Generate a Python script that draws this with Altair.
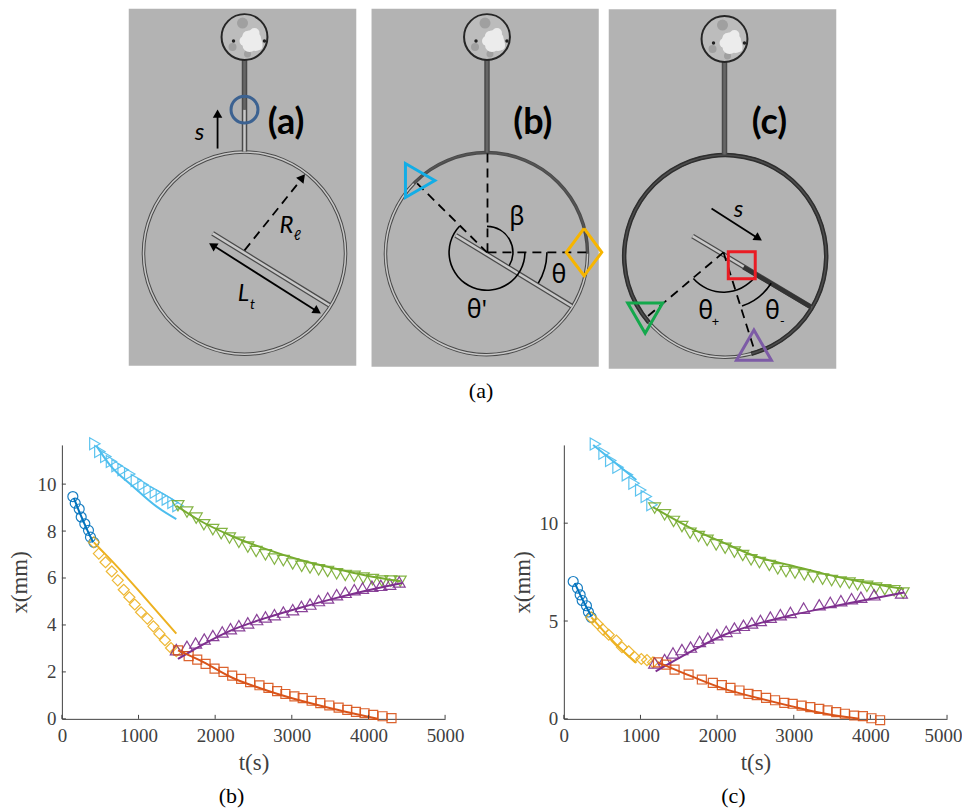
import math
import altair as alt
import pandas as pd

# ---------- plot (b) readings ----------
B_CIRCLE_T = [143,174,226,252,299,347,373,417]
B_CIRCLE_X = [9.47,9.19,8.94,8.6,8.31,8.03,7.74,7.52]
B_BLUE_LINE_T = [156,240,330,408]
B_BLUE_LINE_X = [9.4,8.72,8.05,7.52]
B_DIAMOND_T = [417,482,569,651,729,807,881,951,1033,1115,1194,1272,1345,1424,1493]
B_DIAMOND_X = [7.52,7.04,6.67,6.28,5.90,5.50,5.18,4.87,4.54,4.27,3.94,3.63,3.35,3.02,2.88]
B_YELLOW_LINE_T = [417,712,1059,1493]
B_YELLOW_LINE_X = [7.52,6.52,5.25,3.63]
B_RIGHT_T = [430,495,573,647,720,799,885,972,1059,1137,1220,1298,1376,1450,1515]
B_RIGHT_X = [11.72,11.39,11.18,10.96,10.78,10.61,10.43,10.16,9.97,9.79,9.65,9.50,9.36,9.22,9.08]
B_CYAN_LINE_T = [451,625,929,1233,1493]
B_CYAN_LINE_X = [11.63,10.82,9.90,9.05,8.51]
B_DOWN_T = [1515,1632,1753,1853,1970,2079,2187,2309,2426,2535,2656,2773,2890,3012,3129,3238,3350,3468,3585,3698,3815,3932,4054,4175,4292,4414]
B_DOWN_X = [9.08,8.81,8.55,8.27,8.06,7.89,7.70,7.52,7.32,7.13,6.99,6.81,6.74,6.60,6.50,6.43,6.35,6.28,6.18,6.11,6.07,6.0,5.93,5.87,5.87,5.86]
B_GREEN_LINE_T = [1493,1797,2231,2665,3099,3533,3967,4423]
B_GREEN_LINE_X = [9.08,8.45,7.77,7.23,6.78,6.43,6.11,5.86]
B_UP_T = [1493,1632,1745,1858,1970,2092,2200,2309,2426,2543,2656,2773,2890,3012,3125,3238,3350,3468,3585,3698,3815,3923,4045,4162,4279,4401]
B_UP_X = [2.95,3.09,3.23,3.40,3.55,3.70,3.84,3.97,4.09,4.23,4.34,4.44,4.55,4.65,4.79,4.89,5.04,5.15,5.29,5.39,5.50,5.57,5.65,5.69,5.74,5.83]
B_PURPLE_LINE_T = [1515,1797,2231,2665,3099,3533,3967,4444]
B_PURPLE_LINE_X = [2.55,3.09,3.80,4.30,4.72,5.11,5.46,5.79]
B_SQUARE_T = [1515,1654,1766,1875,1992,2109,2222,2339,2456,2578,2695,2808,2916,3034,3142,3259,3372,3489,3611,3724,3837,3949,4062,4184,4301]
B_SQUARE_X = [2.92,2.67,2.52,2.34,2.14,2.0,1.84,1.70,1.56,1.43,1.32,1.18,1.06,0.96,0.88,0.77,0.67,0.57,0.48,0.38,0.30,0.24,0.17,0.11,0.03]
B_RED_LINE_T = [1515,1797,2231,2665,3099,3533,3967,4119]
B_RED_LINE_X = [2.92,2.5,1.74,1.22,0.79,0.43,0.11,0.0]

# ---------- plot (c) readings ----------
C_CIRCLE_T = [122,178,213,239,295,321,356]
C_CIRCLE_X = [7.02,6.68,6.34,6.05,5.78,5.46,5.19]
C_BLUE_LINE_T = [143,250,360]
C_BLUE_LINE_X = [6.94,6.05,5.24]
C_DIAMOND_T = [356,438,512,586,686,759,846,924,1011,1085,1163]
C_DIAMOND_X = [5.19,4.86,4.56,4.30,4.0,3.66,3.45,3.16,3.06,3.0,2.89]
C_YELLOW_LINE_T = [360,664,946]
C_YELLOW_LINE_X = [5.19,3.88,2.86]
C_RIGHT_T = [412,525,612,707,829,916,1003,1076,1150]
C_RIGHT_X = [14.05,13.57,13.2,12.86,12.47,12.04,11.70,11.36,10.94]
C_CYAN_LINE_T = [382,664,946]
C_CYAN_LINE_X = [14.0,13.1,12.21]
C_DOWN_T = [1185,1315,1432,1541,1649,1758,1871,1988,2105,2226,2335,2443,2552,2682,2791,2899,3016,3138,3255,3377,3494,3607,3724,3832,3954,4071,4188,4310,4427]
C_DOWN_X = [10.77,10.43,10.09,9.83,9.49,9.32,9.12,8.89,8.72,8.52,8.35,8.13,7.99,7.84,7.67,7.53,7.45,7.36,7.24,7.14,7.07,6.99,6.94,6.85,6.77,6.68,6.60,6.55,6.43]
C_GREEN_LINE_T = [1163,1662,2096,2530,2964,3398,3832,4440]
C_GREEN_LINE_X = [10.82,9.74,8.98,8.27,7.84,7.41,7.04,6.63]
C_UP_T = [1185,1315,1424,1541,1654,1771,1879,1996,2118,2226,2344,2452,2565,2695,2825,2956,3129,3333,3476,3615,3754,3876,4049,4405]
C_UP_X = [2.86,3.03,3.37,3.54,3.67,3.96,4.13,4.30,4.47,4.64,4.78,4.90,5.03,5.20,5.32,5.44,5.66,5.83,5.95,6.04,6.14,6.22,6.34,6.43]
C_PURPLE_LINE_T = [1198,1662,2096,2530,2964,3398,3832,4440]
C_PURPLE_LINE_X = [2.43,3.45,4.30,4.86,5.29,5.66,6.0,6.46]
C_SQUARE_T = [1228,1337,1445,1628,1801,1944,2062,2174,2292,2409,2517,2639,2756,2877,2986,3103,3216,3333,3442,3554,3667,3789,3902,4014,4127]
C_SQUARE_X = [2.89,2.77,2.52,2.26,2.01,1.84,1.72,1.58,1.45,1.28,1.21,1.07,0.95,0.82,0.77,0.68,0.60,0.51,0.43,0.34,0.26,0.17,0.14,0.03,-0.07]
C_RED_LINE_T = [1228,1662,2096,2530,2964,3398,3854]
C_RED_LINE_X = [2.89,2.18,1.53,1.07,0.65,0.27,0.0]

X_TICKS = [0,1000,2000,3000,4000,5000]
B_Y_TICKS = [0,2,4,6,8,10]
C_Y_TICKS = [0,5,10]
B_Y_MAX = 11.67
C_Y_MAX = 14.0

# ---------- diagram readings (page pixels) ----------
PANEL_X = [129, 372.3, 610]
PANEL_X2 = [357, 600, 838]
PANEL_Y = [8, 8, 8.3]
PANEL_Y2 = [365.7, 366.7, 368.7]
RING_X = [245, 487.5, 726.7]
RING_Y = [252.8, 253.3, 255.8]
BULB_X = [245, 488, 726]
BULB_Y = [36.3, 36.3, 38.3]
MOTTLE_DX = [-2, -12, 3]
MOTTLE_DY = [-14, 10, 17]
MOTTLE_D = [11, 8, 7]
BLOB_DX = [7, 11, 5, 10, 0, 14, 3]
BLOB_DY = [3, 7, 8, -4, 4, 9, -1]
BLOB_D = [20, 14, 14, 10, 10, 8, 10]
SPECK_DX = [-11, 20]
SPECK_DY = [4, 4]
STEM_TOP = [59, 59, 60]
STEM_BOTTOM = [151, 152, 154]
TUBE_X1 = [213, 456.7, 694]
TUBE_Y1 = [233, 235, 235.7]
TUBE_X2 = [330, 573, 813]
TUBE_Y2 = [305, 306, 307]

# (label, x, y)
BOLD_LABELS = [("(a)", 286.7, 122), ("(b)", 534, 122), ("(c)", 771, 122)]
ITALIC_LABELS = [("s", 200, 132), ("R", 287, 226), ("L", 244, 294), ("s", 740, 210)]
ITALIC_SUBS = [("\u2113", 298, 236), ("t", 253, 305)]
GREEK_LABELS = [("\u03b2", 518, 217), ("\u03b8", 560, 275), ("\u03b8'", 478, 310), ("\u03b8", 707, 311), ("\u03b8", 774, 311)]
GREEK_SUBS = [("+", 717, 322), ("-", 784, 321)]

# solid thin black lines (x1, y1, x2, y2)
ARROW_SHAFTS = [(218, 148, 218, 112), (215, 246, 316, 310), (713, 208, 758, 237)]
DASHED = [(245, 250, 301, 180), (488.5, 153, 488.5, 253), (488.5, 252, 590, 252), (418, 183, 488, 252),
          (725, 252, 648, 317), (725, 252, 755, 347)]
# arrow heads (x, y, angle)
ARROW_HEADS = [(218, 113, 0), (303, 177, 39), (213, 245, -58), (318, 311, 122), (760, 238, 123)]
# thin arcs: (cx, cy, radius, from deg, to deg)
ANGLE_ARCS = [(488, 252, 60, 90, 121), (488, 252, 26, 0, 121), (488, 252, 38, 90, 314),
              (725, 252, 40, 128, 229), (725, 252, 57, 123, 161)]
DIAMOND_X = [585.3, 603, 585.3, 567.5, 585.3]
DIAMOND_Y = [228, 252, 275.5, 252, 228]

TOP_H = 426.5
SX = alt.Scale(domain=[62, 946], nice=False, zero=False)
SY = alt.Scale(domain=[8 + TOP_H, 8], nice=False, zero=False)
X = lambda f="x": alt.X(f"{f}:Q", scale=SX, axis=None)
Y = lambda f="y": alt.Y(f"{f}:Q", scale=SY, axis=None)


def seg_layer(segs, color, width, dash=None):
    rows = []
    for i, (a, b, c, d) in enumerate(segs):
        rows += [{"id": i, "o": 0, "x": a, "y": b}, {"id": i, "o": 1, "x": c, "y": d}]
    kw = {"strokeDash": dash} if dash else {}
    return alt.Chart(pd.DataFrame(rows)).mark_line(color=color, strokeWidth=width, **kw).encode(
        x=X(), y=Y(), detail="id:N", order="o:Q")


def arc_layer(rows):
    df = pd.DataFrame(rows, columns=["x", "y", "r", "r2", "t", "t2", "c"])
    df["t"] = df["t"] * math.pi / 180
    df["t2"] = df["t2"] * math.pi / 180
    return alt.Chart(df).mark_arc().encode(
        x=X(), y=Y(),
        radius=alt.Radius("r:Q", scale=None), radius2=alt.Radius2("r2:Q"),
        theta=alt.Theta("t:Q", scale=None), theta2=alt.Theta2("t2:Q"),
        color=alt.Color("c:N", scale=None))


def pts(xs, ys, size, shape="circle", fill=None, stroke=None, sw=0):
    df = pd.DataFrame({"x": xs, "y": ys})
    kw = {}
    kw["filled"] = fill is not None
    if fill is not None:
        kw["fill"] = fill
    if stroke is not None:
        kw["stroke"] = stroke
    return alt.Chart(df).mark_point(shape=shape, size=size, strokeWidth=sw, opacity=1, **kw).encode(x=X(), y=Y())


def txt(items, font, size, **kw):
    df = pd.DataFrame(items, columns=["t", "x", "y"])
    return alt.Chart(df).mark_text(font=font, fontSize=size, color="black", baseline="middle", **kw).encode(
        x=X(), y=Y(), text="t:N")


layers = []
layers.append(alt.Chart(pd.DataFrame({"x": PANEL_X, "x2": PANEL_X2, "y": PANEL_Y, "y2": PANEL_Y2}))
              .mark_rect(color="#b3b3b3").encode(x=X(), x2="x2:Q", y=Y(), y2="y2:Q"))

# rings: dark walls + channel fill by section
ring_rows = []
for cx, cy in zip(RING_X, RING_Y):
    ring_rows.append((cx, cy, 99.5, 103, 0, 360, "#4a4a4a"))
LIGHT, DARK = "#c8c8c8", "#555555"
ring_rows += [(RING_X[0], RING_Y[0], 100.5, 102, 0, 360, LIGHT),
              (RING_X[1], RING_Y[1], 100.5, 102, 90, 314, LIGHT),
              (RING_X[1], RING_Y[1], 100.5, 102, 314, 450, DARK),
              (RING_X[2], RING_Y[2], 99, 103.5, 229, 525, "#2e2e2e"),
              (RING_X[2], RING_Y[2], 100.5, 102, 165, 229, LIGHT),
              (RING_X[2], RING_Y[2], 100.5, 102, 229, 525, "#4d4d4d")]
layers.append(arc_layer(ring_rows))

# stems and tubes
stem = [(x, a, x, b) for x, a, b in zip(BULB_X, STEM_TOP, STEM_BOTTOM)]
layers.append(seg_layer(stem, "#4a4a4a", 5.5))
layers.append(seg_layer([(245, 109, 245, 151)], LIGHT, 2.5))
layers.append(seg_layer([stem[0][:3] + (109,), stem[1], stem[2]], "#666666", 2.5))
tube = list(zip(TUBE_X1, TUBE_Y1, TUBE_X2, TUBE_Y2))
layers.append(seg_layer(tube, "#4a4a4a", 5))
layers.append(seg_layer(tube, LIGHT, 2.5))
layers.append(seg_layer([(745, 267, 813, 307)], "#333333", 4.5))

# bulbs
layers.append(pts(BULB_X, BULB_Y, 46 ** 2, fill="#bcbcbc", stroke="#262626", sw=2))
for dx, dy, d in zip(MOTTLE_DX, MOTTLE_DY, MOTTLE_D):
    layers.append(pts([b + dx for b in BULB_X], [b + dy for b in BULB_Y], d ** 2, fill="#a0a0a0"))
for dx, dy, d in zip(BLOB_DX, BLOB_DY, BLOB_D):
    layers.append(pts([b + dx for b in BULB_X], [b + dy for b in BULB_Y], d ** 2, fill="#ececec"))
for dx, dy in zip(SPECK_DX, SPECK_DY):
    layers.append(pts([b + dx for b in BULB_X], [b + dy for b in BULB_Y], 12, fill="#222222"))

# annotation lines
layers.append(seg_layer(DASHED, "black", 1.8, [9, 6]))
layers.append(seg_layer(ARROW_SHAFTS, "black", 1.8))
layers.append(arc_layer([(a, b, r - 0.8, r + 0.8, t, t2, "black") for a, b, r, t, t2 in ANGLE_ARCS]))
heads = pd.DataFrame(ARROW_HEADS, columns=["x", "y", "a"])
layers.append(alt.Chart(heads).mark_point(shape="triangle-up", filled=True, color="black", size=90, opacity=1).encode(
    x=X(), y=Y(), angle=alt.Angle("a:Q", scale=None)))

# coloured markers
layers.append(pts([245], [109], 27 ** 2, stroke="#3c6291", sw=3))
layers.append(pts([421], [180], 34 ** 2, shape="triangle-right", stroke="#12ade6", sw=3))
layers.append(pts([743.3], [265], 27 ** 2, shape="square", stroke="#ea1c24", sw=3))
layers.append(pts([646.5], [318], 35 ** 2, shape="triangle-down", stroke="#14a84c", sw=3))
layers.append(pts([755.5], [345], 35 ** 2, shape="triangle-up", stroke="#7d5ba6", sw=3))
layers.append(alt.Chart(pd.DataFrame({"x": DIAMOND_X, "y": DIAMOND_Y, "o": range(5)})).mark_line(
    color="#f7b500", strokeWidth=3).encode(x=X(), y=Y(), order="o:Q"))

# labels
layers.append(txt(BOLD_LABELS, "Lato", 36, fontWeight="bold"))
layers.append(txt(ITALIC_LABELS, "Lato", 24, fontStyle="italic"))
layers.append(txt(ITALIC_SUBS, "Lato", 14, fontStyle="italic"))
layers.append(txt(GREEK_LABELS, "Noto Sans", 25))
layers.append(txt(GREEK_SUBS, "Noto Sans", 13))
layers.append(txt([("(a)", 482, 391)], "Liberation Serif", 22))

top = alt.layer(*layers).properties(width=884, height=TOP_H)

BLUE, ORANGE, YELLOW, PURPLE, GREEN, CYAN = "#0072BD", "#D95319", "#EDB120", "#7E2F8E", "#77AC30", "#4DBEEE"
W, H = 384, 274.5


def plot(markers, lines, ymax, yticks, caption, tpad, last_shift):
    sx = alt.Scale(domain=[0, 5000], nice=False, zero=False)
    sy = alt.Scale(domain=[0, ymax], nice=False, zero=False)
    base = dict(labelFont="Liberation Serif", labelFontSize=19, labelColor="#404040", tickSize=0,
                titleFont="Liberation Serif", titleFontSize=23, titleColor="#404040", titleFontWeight="normal",
                domainColor="#404040", domainWidth=1, grid=False, format="d", labelOverlap=False,
                labelFlush=False, labelBound=False)
    ax = alt.X("t:Q", scale=sx, axis=alt.Axis(values=X_TICKS, title="t(s)", labelPadding=8, titlePadding=6,
                                              labelOffset=alt.expr(f"datum.value == 5000 ? {last_shift} : 0"), **base))
    ay = alt.Y("v:Q", scale=sy, axis=alt.Axis(values=yticks, title="x(mm)", labelPadding=6, titlePadding=tpad, **base))
    out = []
    for (ts, vs, shape, size, color) in markers:
        out.append(alt.Chart(pd.DataFrame({"t": ts, "v": vs})).mark_point(
            shape=shape, size=size, color=color, strokeWidth=1.2, filled=False, opacity=0.9, clip=False).encode(x=ax, y=ay))
    for (ts, vs, color) in lines:
        out.append(alt.Chart(pd.DataFrame({"t": ts, "v": vs})).mark_line(
            color=color, strokeWidth=2, interpolate="monotone").encode(x=ax, y=ay))
    out.append(alt.Chart(pd.DataFrame({"t": X_TICKS})).mark_rule(color="#404040", strokeWidth=1).encode(
        x=alt.X("t:Q", scale=sx), y=alt.value(H), y2=alt.value(H - 4)))
    out.append(alt.Chart(pd.DataFrame({"v": yticks})).mark_rule(color="#404040", strokeWidth=1).encode(
        y=alt.Y("v:Q", scale=sy), x=alt.value(0), x2=alt.value(4)))
    out.append(alt.Chart(pd.DataFrame({"t": [caption]})).mark_text(
        font="Liberation Serif", fontSize=22, color="black").encode(x=alt.value(170), y=alt.value(H + 77), text="t:N"))
    return alt.layer(*out).properties(width=W, height=H)


left = plot(
    [(B_CIRCLE_T, B_CIRCLE_X, "circle", 100, BLUE), (B_DIAMOND_T, B_DIAMOND_X, "diamond", 121, YELLOW),
     (B_RIGHT_T, B_RIGHT_X, "triangle-right", 144, CYAN), (B_DOWN_T, B_DOWN_X, "triangle-down", 144, GREEN),
     (B_UP_T, B_UP_X, "triangle-up", 144, PURPLE), (B_SQUARE_T, B_SQUARE_X, "square", 81, ORANGE)],
    [(B_BLUE_LINE_T, B_BLUE_LINE_X, BLUE), (B_YELLOW_LINE_T, B_YELLOW_LINE_X, YELLOW),
     (B_CYAN_LINE_T, B_CYAN_LINE_X, CYAN), (B_GREEN_LINE_T, B_GREEN_LINE_X, GREEN),
     (B_PURPLE_LINE_T, B_PURPLE_LINE_X, PURPLE), (B_RED_LINE_T, B_RED_LINE_X, ORANGE)],
    B_Y_MAX, B_Y_TICKS, "(b)", 5, 0)
right = plot(
    [(C_CIRCLE_T, C_CIRCLE_X, "circle", 100, BLUE), (C_DIAMOND_T, C_DIAMOND_X, "diamond", 121, YELLOW),
     (C_RIGHT_T, C_RIGHT_X, "triangle-right", 144, CYAN), (C_DOWN_T, C_DOWN_X, "triangle-down", 144, GREEN),
     (C_UP_T, C_UP_X, "triangle-up", 144, PURPLE), (C_SQUARE_T, C_SQUARE_X, "square", 81, ORANGE)],
    [(C_BLUE_LINE_T, C_BLUE_LINE_X, BLUE), (C_YELLOW_LINE_T, C_YELLOW_LINE_X, YELLOW),
     (C_CYAN_LINE_T, C_CYAN_LINE_X, CYAN), (C_GREEN_LINE_T, C_GREEN_LINE_X, GREEN),
     (C_PURPLE_LINE_T, C_PURPLE_LINE_X, PURPLE), (C_RED_LINE_T, C_RED_LINE_X, ORANGE)],
    C_Y_MAX, C_Y_TICKS, "(c)", 4, -4)

bottom = alt.hconcat(left, right, spacing=48)
chart = alt.vconcat(top, bottom, spacing=0).properties(
    padding={"left": 1, "top": 0, "right": 0, "bottom": 0}).configure_view(stroke=None)
chart.save("out.html", embed_options={"renderer": "svg", "actions": False})
